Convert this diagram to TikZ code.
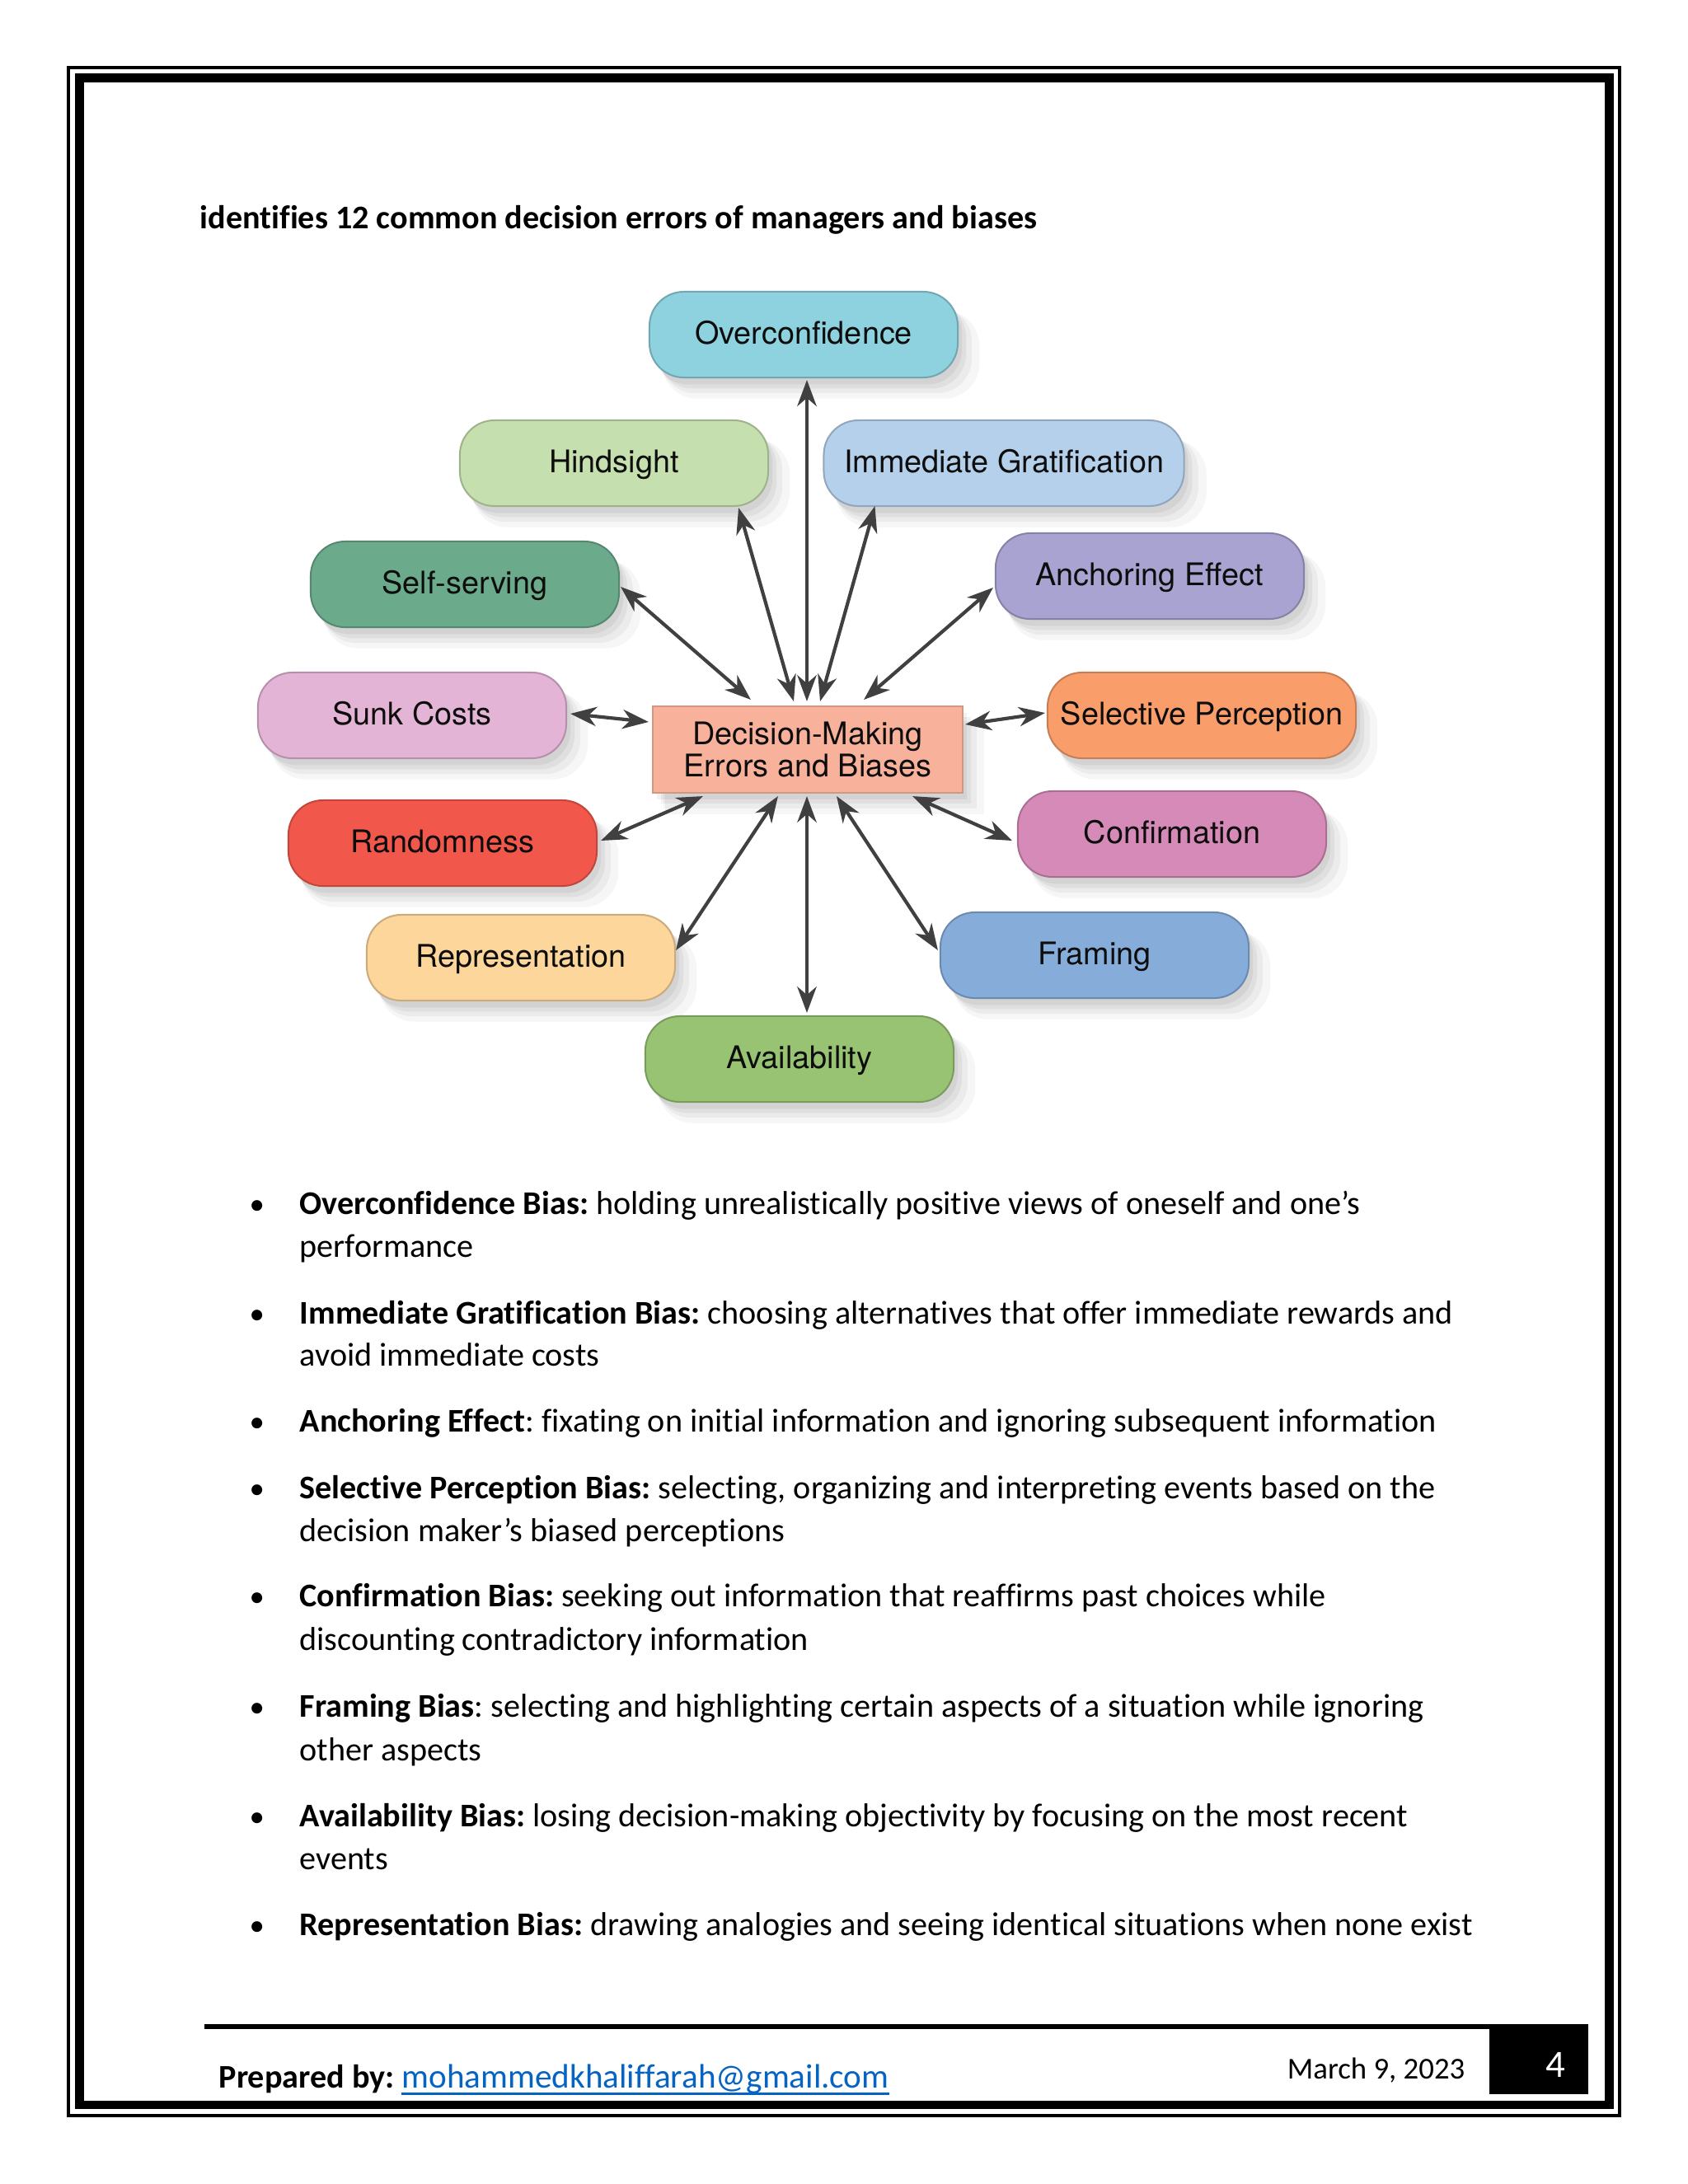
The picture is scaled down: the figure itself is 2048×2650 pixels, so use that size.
\documentclass[tikz,border=0pt]{standalone}
\usepackage{fontspec}
\setmainfont{Carlito}[Ligatures=NoCommon]
\newfontfamily\diagfont{TeX Gyre Heros}
\usetikzlibrary{arrows.meta,calc,shadows}
\frenchspacing
\definecolor{cOver}{HTML}{8ED1DF}
\definecolor{cHind}{HTML}{C5E0AE}
\definecolor{cImmG}{HTML}{B5D0EB}
\definecolor{cSelf}{HTML}{6BAA8B}
\definecolor{cAnch}{HTML}{A8A3D1}
\definecolor{cSunk}{HTML}{E3B4D5}
\definecolor{cDM}{HTML}{F8B19A}
\definecolor{cSel}{HTML}{F99D6B}
\definecolor{cRand}{HTML}{F1574A}
\definecolor{cConf}{HTML}{D58AB8}
\definecolor{cRepr}{HTML}{FCD69B}
\definecolor{cFram}{HTML}{86ADDA}
\definecolor{cAvail}{HTML}{97C373}
\definecolor{cArrow}{HTML}{404040}
\definecolor{cLink}{HTML}{0563C1}
\tikzset{
  softshadow/.style={
    general shadow={fill=black,opacity=0.035,shadow xshift=6pt,shadow yshift=-7pt,shadow scale=1.03},
    general shadow={fill=black,opacity=0.045,shadow xshift=4.5pt,shadow yshift=-5.5pt,shadow scale=1.01},
    general shadow={fill=black,opacity=0.05,shadow xshift=3pt,shadow yshift=-4pt},
    general shadow={fill=black,opacity=0.05,shadow xshift=1.5pt,shadow yshift=-2.5pt}},
  bias/.style={rounded corners=12.5pt, minimum width=111.8pt, minimum height=31.1pt,
    inner sep=0pt, text height=8pt, text depth=1.2pt, draw=#1!80!black, fill=#1, line width=0.6pt,
    font=\diagfont\fontsize{11.3}{13.5}\selectfont, text=black!95, softshadow},
  hub/.style={rectangle, minimum width=112.4pt, minimum height=31.4pt, inner sep=0pt,
    draw=cDM!85!black, fill=cDM, line width=0.6pt, align=center,
    font=\diagfont\fontsize{11.3}{11.4}\selectfont, text=black!95, softshadow},
  biarr/.style={{Stealth[length=9.5pt,width=7pt,inset=3pt]}-{Stealth[length=9.5pt,width=7pt,inset=3pt]},
    line width=1.25pt, draw=cArrow, fill=cArrow},
  bodytext/.style={anchor=base west, inner sep=0pt, font=\fontsize{12}{14}\selectfont},
  bullet/.style={anchor=base west, inner sep=0pt, font=\fontsize{11}{13}\selectfont},
}
\begin{document}
\begin{tikzpicture}[x=0.29883pt, y=-0.29883pt]
\useasboundingbox (0,0) rectangle (2048,2650);
\fill[white] (0,0) rectangle (2048,2650);
% page frame
\draw[line width=1.2pt] (83,82) rectangle (1965,2567);
\draw[line width=3pt] (96.5,94.5) rectangle (1952.5,2554);
% title
\node[bodytext, font=\bfseries\fontsize{12}{14}\selectfont] (title) at (242,277) {identifies 12 common decision errors of managers and biases};
% diagram nodes
\node[bias=cOver] (over) at (975,406) {Overconfidence};
\node[bias=cHind] (hind) at (745,562) {Hindsight};
\node[bias=cImmG, minimum width=130.6pt] (immg) at (1218,562) {Immediate Gratification};
\node[bias=cSelf] (self) at (564,709) {Self-serving};
\node[bias=cAnch] (anch) at (1395,699) {Anchoring Effect};
\node[bias=cSunk] (sunk) at (500,868) {Sunk Costs};
\node[bias=cSel] (sel) at (1458,868) {Selective Perception};
\node[hub] (dm) at (980,909.5) {Decision-Making\\Errors and Biases};
\node[bias=cRand] (rand) at (537,1023) {Randomness};
\node[bias=cConf] (conf) at (1422,1012) {Confirmation};
\node[bias=cRepr] (repr) at (632,1162) {Representation};
\node[bias=cFram] (fram) at (1328,1159) {Framing};
\node[bias=cAvail] (avail) at (970,1285) {Availability};
% connectors
\draw[biarr] ($(over.south)+(4,2)$) -- ($(dm.north)+(-1,-5)$);
\draw[biarr] ($(hind.south east)+(-37,1)$) -- ($(dm.north)+(-17,-5)$);
\draw[biarr] ($(immg.south west)+(63,-1)$) -- ($(dm.north)+(15,-5)$);
\draw[biarr] ($(self.east)+(1,3)$) -- ($(dm.north west)+(120,-7)$);
\draw[biarr] ($(anch.west)+(-2,14)$) -- ($(dm.north east)+(-121,-7)$);
\draw[biarr] ($(sunk.east)+(4,-2)$) -- ($(dm.north west)+(-4,20)$);
\draw[biarr] ($(sel.west)+(-2,-3)$) -- ($(dm.north east)+(2,23)$);
\draw[biarr] ($(rand.east)+(4,-3)$) -- ($(dm.south west)+(62,3)$);
\draw[biarr] ($(repr.east)+(0,-9)$) -- ($(dm.south west)+(153,3)$);
\draw[biarr] ($(avail.north)+(9,-3)$) -- ($(dm.south)+(-1,3)$);
\draw[biarr] ($(fram.west)+(-2,-6)$) -- ($(dm.south)+(35,3)$);
\draw[biarr] ($(conf.west)+(-6,8)$) -- ($(dm.south east)+(-62,3)$);
% bullet list
\node[bullet] (b1) at (302,1473) {•};
\node[bodytext] (t1) at (363,1473) {\textbf{Overconfidence Bias:} holding unrealistically positive views of oneself and one’s};
\node[bodytext] (t1b) at (363,1525) {performance};
\node[bullet] (b2) at (302,1606) {•};
\node[bodytext] (t2) at (363,1606) {\textbf{Immediate Gratification Bias:} choosing alternatives that offer immediate rewards and};
\node[bodytext] (t2b) at (363,1657) {avoid immediate costs};
\node[bullet] (b3) at (302,1737) {•};
\node[bodytext] (t3) at (363,1737) {\textbf{Anchoring Effect}: fixating on initial information and ignoring subsequent information};
\node[bullet] (b4) at (302,1818) {•};
\node[bodytext] (t4) at (363,1818) {\textbf{Selective Perception Bias:} selecting, organizing and interpreting events based on the};
\node[bodytext] (t4b) at (363,1870) {decision maker’s biased perceptions};
\node[bullet] (b5) at (302,1949) {•};
\node[bodytext] (t5) at (363,1949) {\textbf{Confirmation Bias:} seeking out information that reaffirms past choices while};
\node[bodytext] (t5b) at (363,2002) {discounting contradictory information};
\node[bullet] (b6) at (302,2083) {•};
\node[bodytext] (t6) at (363,2083) {\textbf{Framing Bias}: selecting and highlighting certain aspects of a situation while ignoring};
\node[bodytext] (t6b) at (363,2136) {other aspects};
\node[bullet] (b7) at (302,2216) {•};
\node[bodytext] (t7) at (363,2216) {\textbf{Availability Bias:} losing decision-making objectivity by focusing on the most recent};
\node[bodytext] (t7b) at (363,2268) {events};
\node[bullet] (b8) at (302,2348) {•};
\node[bodytext] (t8) at (363,2348) {\textbf{Representation Bias:} drawing analogies and seeing identical situations when none exist};
% footer
\fill (248,2456) rectangle (1927,2462);
\fill (1807,2456) rectangle (1927,2541);
\node[bodytext, font=\bfseries\fontsize{12}{14}\selectfont] (prep) at (265,2533) {Prepared by:};
\node[bodytext, text=cLink, font=\fontsize{12.3}{14}\selectfont] (mail) at (487,2533) {mohammedkhaliffarah@gmail.com};
\draw[cLink, line width=0.9pt] ($(mail.base west)+(0,7)$) -- ($(mail.base east)+(0,7)$);
\node[anchor=base east, inner sep=0pt, font=\fontsize{11}{13}\selectfont] (date) at (1778,2522) {March 9, 2023};
\node[anchor=base, inner sep=0pt, text=white, font=\fontsize{14}{16}\selectfont] (pnum) at (1887,2520) {4};
\end{tikzpicture}
\end{document}
